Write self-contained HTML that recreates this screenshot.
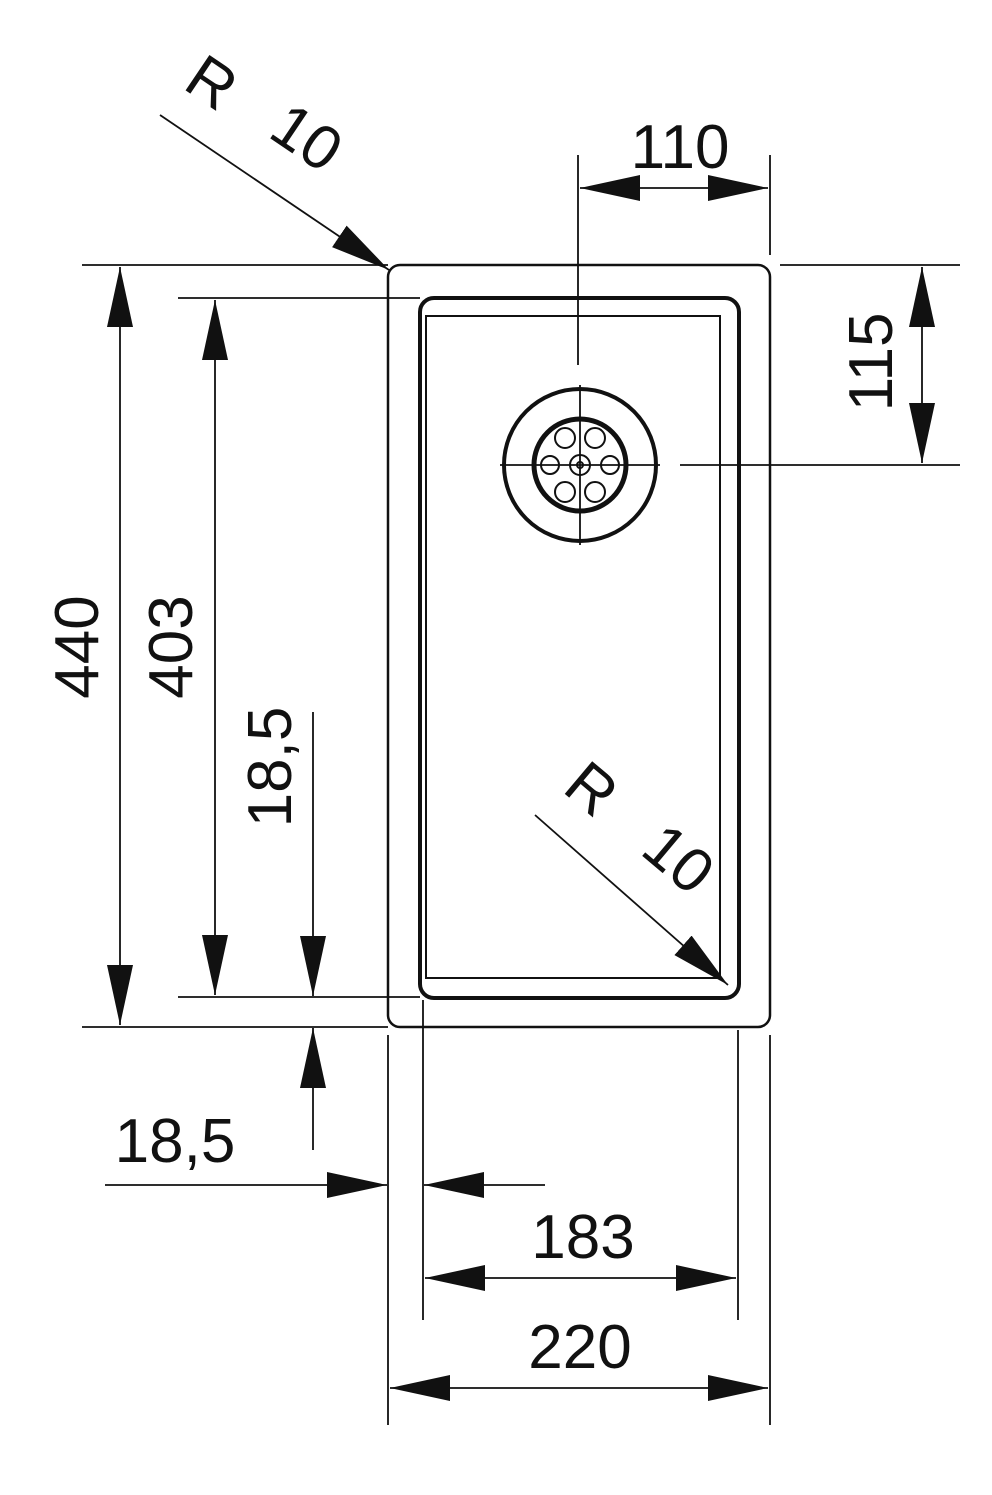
<!DOCTYPE html>
<html><head><style>html,body{margin:0;padding:0;background:#fff}svg{display:block}</style></head>
<body>
<svg width="992" height="1495" viewBox="0 0 992 1495" xmlns="http://www.w3.org/2000/svg" font-family="Liberation Sans, sans-serif" font-size="62" fill="#111">
<defs>
<marker id="a" viewBox="0 0 60 26" refX="60" refY="13" markerWidth="60" markerHeight="26" markerUnits="userSpaceOnUse" orient="auto-start-reverse"><path d="M0,0 L60,13 L0,26 Z" fill="#111"/></marker>
</defs>
<g stroke="#111" fill="none">
<rect x="388" y="265" width="382" height="762" rx="12" stroke-width="2.5"/>
<rect x="420" y="298" width="319" height="700" rx="14" stroke-width="4"/>
<rect x="426" y="316" width="294" height="662" stroke-width="2"/>
<circle cx="580" cy="465" r="76" stroke-width="4"/>
<circle cx="580" cy="465" r="46" stroke-width="5"/>
<g stroke-width="2">
<circle cx="580" cy="465" r="10"/><circle cx="580" cy="465" r="3"/>
<circle cx="550" cy="465" r="9"/><circle cx="610" cy="465" r="9"/>
<circle cx="565" cy="438" r="10"/><circle cx="595" cy="438" r="10"/>
<circle cx="565" cy="492" r="10"/><circle cx="595" cy="492" r="10"/>
</g>
<g stroke-width="1.8">
<line x1="578" y1="155" x2="578" y2="365"/>
<line x1="580" y1="385" x2="580" y2="545"/>
<line x1="500" y1="465" x2="660" y2="465"/>
<line x1="680" y1="465" x2="960" y2="465"/>
<line x1="82" y1="265" x2="388" y2="265"/>
<line x1="82" y1="1027" x2="388" y2="1027"/>
<line x1="178" y1="298" x2="420" y2="298"/>
<line x1="178" y1="997" x2="420" y2="997"/>
<line x1="770" y1="155" x2="770" y2="255"/>
<line x1="780" y1="265" x2="960" y2="265"/>
<line x1="388" y1="1035" x2="388" y2="1425"/>
<line x1="770" y1="1035" x2="770" y2="1425"/>
<line x1="423" y1="1000" x2="423" y2="1320"/>
<line x1="738" y1="1030" x2="738" y2="1320"/>
<line x1="120" y1="267" x2="120" y2="1025" marker-start="url(#a)" marker-end="url(#a)"/>
<line x1="215" y1="300" x2="215" y2="995" marker-start="url(#a)" marker-end="url(#a)"/>
<line x1="313" y1="712" x2="313" y2="996" marker-end="url(#a)"/>
<line x1="313" y1="1150" x2="313" y2="1028" marker-end="url(#a)"/>
<line x1="105" y1="1185" x2="387" y2="1185" marker-end="url(#a)"/>
<line x1="545" y1="1185" x2="424" y2="1185" marker-end="url(#a)"/>
<line x1="425" y1="1278" x2="736" y2="1278" marker-start="url(#a)" marker-end="url(#a)"/>
<line x1="390" y1="1388" x2="768" y2="1388" marker-start="url(#a)" marker-end="url(#a)"/>
<line x1="580" y1="188" x2="768" y2="188" marker-start="url(#a)" marker-end="url(#a)"/>
<line x1="922" y1="267" x2="922" y2="463" marker-start="url(#a)" marker-end="url(#a)"/>
<line x1="160" y1="115" x2="389" y2="270" marker-end="url(#a)"/>
<line x1="535" y1="815" x2="728" y2="985" marker-end="url(#a)"/>
</g>
</g>
<g stroke="none">
<text x="680" y="168" text-anchor="middle">110</text>
<text x="583" y="1258" text-anchor="middle">183</text>
<text x="580" y="1368" text-anchor="middle">220</text>
<text x="175" y="1162" text-anchor="middle">18,5</text>
<text transform="translate(98,647) rotate(-90)" text-anchor="middle">440</text>
<text transform="translate(192,647) rotate(-90)" text-anchor="middle">403</text>
<text transform="translate(291,767) rotate(-90)" text-anchor="middle">18,5</text>
<text transform="translate(892,362) rotate(-90)" text-anchor="middle">115</text>
<text transform="translate(200,100) rotate(34)" text-anchor="middle">R</text>
<text transform="translate(295,155) rotate(34)" text-anchor="middle">10</text>
<text transform="translate(578,805) rotate(40)" text-anchor="middle">R</text>
<text transform="translate(665,875) rotate(40)" text-anchor="middle">10</text>
</g>
</svg>
</body></html>
